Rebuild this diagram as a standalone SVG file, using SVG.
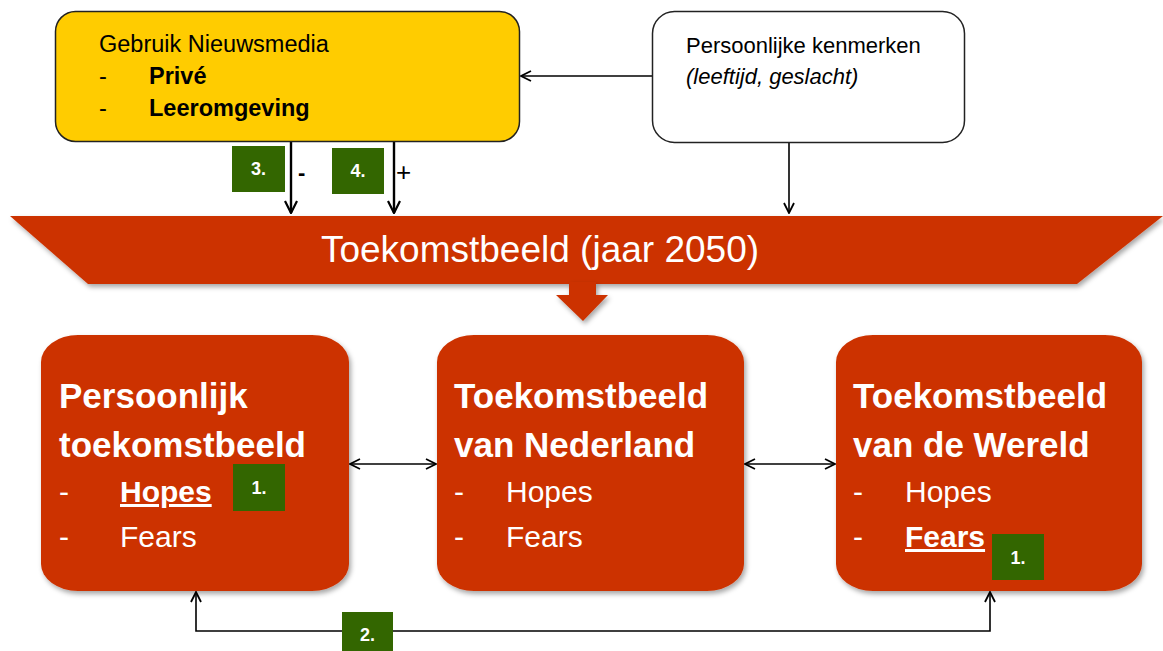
<svg xmlns="http://www.w3.org/2000/svg" width="1163" height="651" viewBox="0 0 1163 651">
<defs>
<style>
.t{font-family:"Liberation Sans",Arial,sans-serif;}
.red{fill:#CC3300;}
.grn{fill:#336600;}
.num{font-family:"Liberation Sans",Arial,sans-serif;font-weight:bold;font-size:18px;fill:#fff;text-anchor:middle;}
.ttl{font-family:"Liberation Sans",Arial,sans-serif;font-weight:bold;font-size:35px;fill:#fff;}
.itm{font-family:"Liberation Sans",Arial,sans-serif;font-size:30px;fill:#fff;}
.ln{fill:none;stroke:#000;stroke-width:1.6;}
.lnb{fill:none;stroke:#000;stroke-width:2.4;}
</style>
<marker id="ah" viewBox="0 0 12 12" refX="11" refY="6" markerWidth="12" markerHeight="12" markerUnits="userSpaceOnUse" orient="auto-start-reverse">
<path d="M1,1 L11,6 L1,11" fill="none" stroke="#000" stroke-width="1.8"/>
</marker>
<marker id="ahb" viewBox="0 0 14 14" refX="13" refY="7" markerWidth="14" markerHeight="14" markerUnits="userSpaceOnUse" orient="auto-start-reverse">
<path d="M1,1 L13,7 L1,13" fill="none" stroke="#000" stroke-width="2.2"/>
</marker>
<filter id="sh" x="-10%" y="-10%" width="120%" height="130%">
<feDropShadow dx="2" dy="3" stdDeviation="2.5" flood-color="#000" flood-opacity="0.35"/>
</filter>
</defs>
<rect width="1163" height="651" fill="#fff"/>

<g id="connectors">
<line class="ln" x1="652" y1="76" x2="521" y2="76" marker-end="url(#ah)"/>
<line class="ln" x1="789" y1="143" x2="789" y2="213" marker-end="url(#ah)"/>
<line class="lnb" x1="291" y1="141" x2="291" y2="213" marker-end="url(#ahb)"/>
<line class="lnb" x1="394" y1="141" x2="394" y2="213" marker-end="url(#ahb)"/>
<line class="ln" x1="350" y1="464" x2="436" y2="464" marker-start="url(#ah)" marker-end="url(#ah)"/>
<line class="ln" x1="745" y1="464" x2="835" y2="464" marker-start="url(#ah)" marker-end="url(#ah)"/>
<polyline class="ln" points="196,592 196,631 990,631 990,592" marker-start="url(#ah)" marker-end="url(#ah)"/>
<text class="t" x="298" y="180" font-size="22" font-weight="bold">-</text>
<text class="t" x="396" y="181" font-size="26">+</text>
</g>

<g id="media">
<rect x="55.5" y="11.5" width="464" height="130" rx="20" ry="20" fill="#FFCC00" stroke="#222" stroke-width="1.5"/>
<text class="t" x="99" y="52" font-size="23.5">Gebruik Nieuwsmedia</text>
<text class="t" x="99" y="84" font-size="23.5">-</text>
<text class="t" x="149" y="84" font-size="23.5" font-weight="bold">Privé</text>
<text class="t" x="99" y="116" font-size="23.5">-</text>
<text class="t" x="149" y="116" font-size="23.5" font-weight="bold">Leeromgeving</text>
</g>

<g id="kenmerken">
<rect x="652.5" y="11.5" width="312" height="131" rx="22" ry="22" fill="#fff" stroke="#222" stroke-width="1.5"/>
<text class="t" x="686" y="53" font-size="22">Persoonlijke kenmerken</text>
<text class="t" x="686" y="84" font-size="22" font-style="italic">(leeftijd, geslacht)</text>
</g>

<g id="label3">
<rect class="grn" x="232" y="146" width="53" height="46"/>
<text class="num" x="258.5" y="175">3.</text>
</g>
<g id="label4">
<rect class="grn" x="332" y="148" width="52" height="46"/>
<text class="num" x="358" y="177">4.</text>
</g>

<g id="toekomstbeeld">
<polygon class="red" points="10,216 1163,216 1077,284 88,284" filter="url(#sh)"/>
<polygon class="red" points="569,282 596,282 596,295 608,295 583,321 556,295 569,295" filter="url(#sh)"/>
<text class="t" x="540" y="262" font-size="37" fill="#fff" text-anchor="middle">Toekomstbeeld (jaar 2050)</text>
</g>

<g id="persoonlijk">
<rect class="red" x="41" y="335" width="308" height="256" rx="37" ry="27" filter="url(#sh)"/>
<text class="ttl" x="59" y="408">Persoonlijk</text>
<text class="ttl" x="59" y="457">toekomstbeeld</text>
<text class="itm" x="59" y="502">-</text>
<text class="itm" x="120" y="502" font-weight="bold" text-decoration="underline">Hopes</text>
<text class="itm" x="59" y="547">-</text>
<text class="itm" x="120" y="547">Fears</text>
</g>

<g id="nederland">
<rect class="red" x="437" y="335" width="307" height="256" rx="37" ry="27" filter="url(#sh)"/>
<text class="ttl" x="454" y="408">Toekomstbeeld</text>
<text class="ttl" x="454" y="457">van Nederland</text>
<text class="itm" x="454" y="502">-</text>
<text class="itm" x="506" y="502">Hopes</text>
<text class="itm" x="454" y="547">-</text>
<text class="itm" x="506" y="547">Fears</text>
</g>

<g id="wereld">
<rect class="red" x="836" y="335" width="306" height="256" rx="37" ry="27" filter="url(#sh)"/>
<text class="ttl" x="853" y="408">Toekomstbeeld</text>
<text class="ttl" x="853" y="457">van de Wereld</text>
<text class="itm" x="853" y="502">-</text>
<text class="itm" x="905" y="502">Hopes</text>
<text class="itm" x="853" y="547">-</text>
<text class="itm" x="905" y="547" font-weight="bold" text-decoration="underline">Fears</text>
</g>

<g id="label1a">
<rect class="grn" x="233" y="464" width="52" height="47"/>
<text class="num" x="259" y="494">1.</text>
</g>
<g id="label1b">
<rect class="grn" x="992" y="534" width="52" height="46"/>
<text class="num" x="1018" y="564">1.</text>
</g>
<g id="label2">
<rect class="grn" x="342" y="612" width="51" height="40"/>
<text class="num" x="367.5" y="641">2.</text>
</g>
</svg>
